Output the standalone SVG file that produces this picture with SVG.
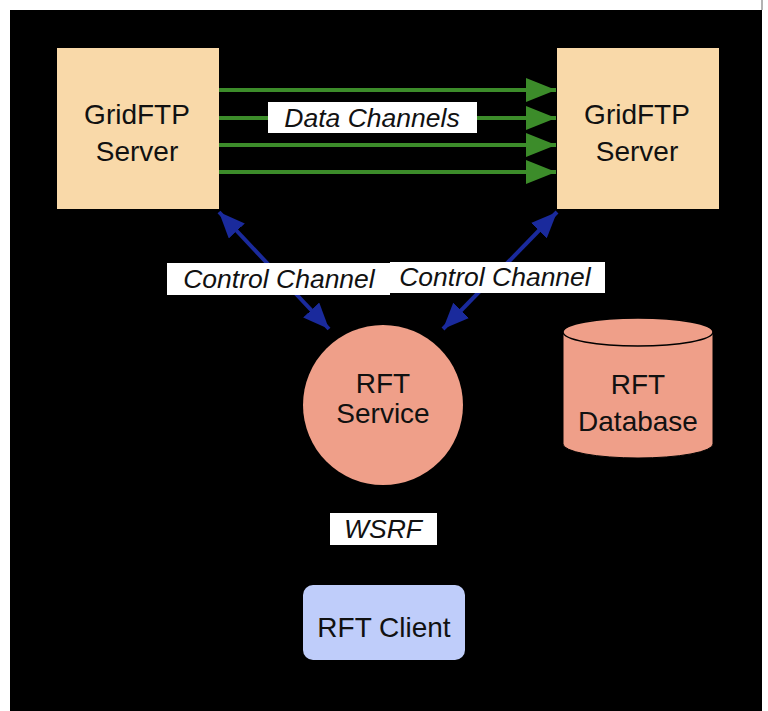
<svg xmlns="http://www.w3.org/2000/svg" width="768" height="711" viewBox="0 0 768 711">
<defs>
<style>
.t{font-family:"Liberation Sans",Arial,sans-serif;fill:#111;text-anchor:middle}
.n{font-size:28px}
.i{font-size:26.5px;font-style:italic}
.lbl{fill:#fff}
.data{stroke:#3c8c2a;stroke-width:4;fill:none}
.ctl{stroke:#1a2a9c;stroke-width:4;fill:none}
</style>
<marker id="g" markerUnits="userSpaceOnUse" viewBox="0 0 30 24" refX="30" refY="12" markerWidth="30" markerHeight="24" orient="auto"><path d="M0,0L30,12L0,24z" fill="#3c8c2a"/></marker>
<marker id="b" markerUnits="userSpaceOnUse" viewBox="0 0 26 22" refX="26" refY="11" markerWidth="26" markerHeight="22" orient="auto-start-reverse"><path d="M0,0L26,11L0,22z" fill="#1a2a9c"/></marker>
</defs>
<rect x="0" y="0" width="768" height="711" fill="#fff"/>
<rect x="10" y="10" width="752" height="701" fill="#000"/>
<line x1="762" y1="0" x2="762" y2="10" stroke="#999" stroke-width="1.5"/>
<g id="connectors">
<line class="data" x1="219" y1="90" x2="556" y2="90" marker-end="url(#g)"/>
<line class="data" x1="219" y1="118" x2="556" y2="118" marker-end="url(#g)"/>
<line class="data" x1="219" y1="145" x2="556" y2="145" marker-end="url(#g)"/>
<line class="data" x1="219" y1="172" x2="556" y2="172" marker-end="url(#g)"/>
<line class="ctl" x1="219" y1="212" x2="329" y2="329" marker-start="url(#b)" marker-end="url(#b)"/>
<line class="ctl" x1="557" y1="212" x2="443" y2="329" marker-start="url(#b)" marker-end="url(#b)"/>
<rect class="lbl" x="268" y="102" width="209" height="31"/>
<text class="t i" x="372" y="127">Data Channels</text>
<rect class="lbl" x="167" y="263" width="223" height="32"/>
<text class="t i" x="279" y="288">Control Channel</text>
<rect class="lbl" x="390" y="262" width="215" height="31"/>
<text class="t i" x="495" y="286">Control Channel</text>
<rect class="lbl" x="330" y="513" width="107" height="32"/>
<text class="t i" x="383" y="538">WSRF</text>
</g>
<g id="gridftp-left">
<rect x="57" y="48" width="162" height="161" fill="#f9d9a9"/>
<text class="t n" x="137" y="124">GridFTP</text>
<text class="t n" x="137" y="161">Server</text>
</g>
<g id="gridftp-right">
<rect x="557" y="48" width="162" height="161" fill="#f9d9a9"/>
<text class="t n" x="637" y="124">GridFTP</text>
<text class="t n" x="637" y="161">Server</text>
</g>
<g id="rft-service">
<circle cx="383" cy="405" r="80" fill="#ef9f89"/>
<text class="t n" x="383" y="393">RFT</text>
<text class="t n" x="383" y="423">Service</text>
</g>
<g id="rft-database">
<path d="M563,332 L563,444 A75,14 0 0 0 713,444 L713,332" fill="#ef9f89" stroke="#000" stroke-width="1"/>
<ellipse cx="638" cy="332" rx="75" ry="14" fill="#ef9f89" stroke="#000" stroke-width="1.5"/>
<text class="t n" x="638" y="394">RFT</text>
<text class="t n" x="638" y="431">Database</text>
</g>
<g id="rft-client">
<rect x="303" y="585" width="162" height="75" rx="10" fill="#bfcdfa"/>
<text class="t n" x="384" y="637">RFT Client</text>
</g>
</svg>
